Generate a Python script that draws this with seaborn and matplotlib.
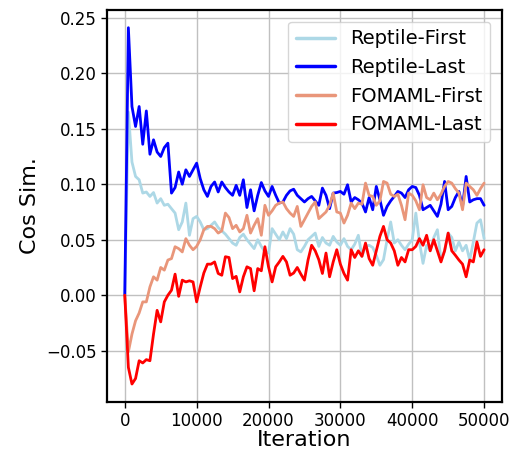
import numpy as np
import pandas as pd
import matplotlib
matplotlib.use("Agg")
import matplotlib.pyplot as plt
import seaborn as sns

# iterations, one point every 500
iterations = np.arange(0, 50001, 500)

reptile_first = [
    0.0, 0.165, 0.120, 0.107, 0.104, 0.092, 0.093, 0.089, 0.0925, 0.083,
    0.087, 0.081, 0.082, 0.078, 0.074, 0.059, 0.066, 0.083, 0.054, 0.069,
    0.071, 0.066, 0.059, 0.060, 0.063, 0.066, 0.061, 0.058, 0.055, 0.051,
    0.047, 0.045, 0.052, 0.055, 0.050, 0.046, 0.042, 0.050, 0.044, 0.039,
    0.038, 0.060, 0.055, 0.050, 0.057, 0.051, 0.060, 0.055, 0.041, 0.039,
    0.044, 0.050, 0.053, 0.056, 0.044, 0.052, 0.047, 0.045, 0.053, 0.048,
    0.045, 0.051, 0.044, 0.041, 0.046, 0.054, 0.035, 0.044, 0.045, 0.043,
    0.036, 0.027, 0.032, 0.050, 0.066, 0.047, 0.050, 0.045, 0.041, 0.046,
    0.050, 0.074, 0.048, 0.0287, 0.045, 0.040, 0.052, 0.059, 0.0317, 0.040,
    0.056, 0.052, 0.040, 0.048, 0.040, 0.045, 0.0317, 0.048, 0.065, 0.068,
    0.051,
]

reptile_last = [
    0.0, 0.241, 0.170, 0.152, 0.170, 0.136, 0.166, 0.127, 0.140, 0.129,
    0.125, 0.133, 0.137, 0.092, 0.097, 0.111, 0.100, 0.113, 0.107, 0.113,
    0.119, 0.105, 0.095, 0.089, 0.098, 0.102, 0.093, 0.102, 0.097, 0.093,
    0.090, 0.099, 0.090, 0.104, 0.079, 0.095, 0.076, 0.090, 0.1015, 0.094,
    0.089, 0.098, 0.090, 0.083, 0.084, 0.090, 0.094, 0.0955, 0.090, 0.087,
    0.084, 0.087, 0.089, 0.085, 0.081, 0.0965, 0.090, 0.078, 0.092, 0.0925,
    0.0935, 0.091, 0.0995, 0.084, 0.088, 0.086, 0.083, 0.075, 0.088, 0.077,
    0.098, 0.086, 0.072, 0.080, 0.085, 0.089, 0.0935, 0.092, 0.088, 0.095,
    0.098, 0.097, 0.090, 0.077, 0.079, 0.081, 0.076, 0.071, 0.082, 0.1025,
    0.077, 0.080, 0.088, 0.0935, 0.080, 0.107, 0.084, 0.086, 0.087, 0.087,
    0.081,
]

fomaml_first = [
    0.0, -0.051, -0.035, -0.023, -0.016, -0.006, -0.006, 0.0075, 0.0166, 0.0136,
    0.025, 0.0226, 0.0317, 0.033, 0.0437, 0.042, 0.039, 0.051, 0.045, 0.041,
    0.044, 0.050, 0.059, 0.062, 0.062, 0.060, 0.056, 0.058, 0.074, 0.070,
    0.060, 0.063, 0.057, 0.060, 0.072, 0.056, 0.063, 0.069, 0.054, 0.081,
    0.072, 0.076, 0.081, 0.083, 0.084, 0.078, 0.074, 0.071, 0.080, 0.062,
    0.068, 0.074, 0.080, 0.084, 0.069, 0.072, 0.075, 0.081, 0.092, 0.075,
    0.074, 0.065, 0.072, 0.083, 0.078, 0.083, 0.082, 0.101, 0.090, 0.089,
    0.081, 0.085, 0.1025, 0.101, 0.091, 0.089, 0.091, 0.081, 0.068, 0.092,
    0.090, 0.085, 0.077, 0.0995, 0.088, 0.086, 0.092, 0.086, 0.091, 0.098,
    0.1025, 0.101, 0.096, 0.092, 0.077, 0.101, 0.098, 0.095, 0.090, 0.096,
    0.101,
]

fomaml_last = [
    0.0, -0.065, -0.080, -0.075, -0.059, -0.061, -0.058, -0.059, -0.035, -0.0136,
    -0.024, -0.006, 0.0, 0.0045, 0.019, -0.001, 0.0136, 0.012, 0.013, 0.012,
    -0.006, 0.0075, 0.020, 0.028, 0.028, 0.030, 0.0196, 0.018, 0.0347, 0.034,
    0.015, 0.017, 0.003, 0.0166, 0.0256, 0.024, 0.004, 0.024, 0.022, 0.0437,
    0.0256, 0.012, 0.0256, 0.030, 0.035, 0.030, 0.018, 0.020, 0.025, 0.019,
    0.0136, 0.0317, 0.045, 0.040, 0.032, 0.0196, 0.038, 0.0166, 0.030, 0.041,
    0.028, 0.0196, 0.0136, 0.041, 0.034, 0.040, 0.035, 0.047, 0.033, 0.027,
    0.040, 0.053, 0.062, 0.050, 0.047, 0.040, 0.027, 0.034, 0.030, 0.041,
    0.041, 0.044, 0.051, 0.045, 0.054, 0.040, 0.050, 0.040, 0.030, 0.040,
    0.056, 0.040, 0.036, 0.0317, 0.028, 0.0166, 0.0317, 0.030, 0.048, 0.035,
    0.041,
]

series = {
    'Reptile-First': reptile_first,
    'Reptile-Last': reptile_last,
    'FOMAML-First': fomaml_first,
    'FOMAML-Last': fomaml_last,
}
colores = {
    'Reptile-First': 'lightblue',
    'Reptile-Last': 'blue',
    'FOMAML-First': 'darksalmon',
    'FOMAML-Last': 'red',
}

df = pd.concat(
    [pd.DataFrame({'Iteration': iterations, 'Cos Sim.': v, 'run': k}) for k, v in series.items()],
    ignore_index=True,
)

sns.set_style('whitegrid', {
    'axes.edgecolor': 'black',
    'axes.labelcolor': 'black',
    'text.color': 'black',
    'xtick.color': 'black',
    'ytick.color': 'black',
    'grid.color': '#c0c0c0',
    'xtick.bottom': True,
    'ytick.left': True,
})
plt.rcParams['font.family'] = ['DejaVu Sans']

fig, ax = plt.subplots(figsize=(5.16, 4.49), dpi=100)
fig.subplots_adjust(left=0.207, right=0.973, bottom=0.105, top=0.978)

sns.lineplot(data=df, x='Iteration', y='Cos Sim.', hue='run', palette=colores,
             linewidth=2, ax=ax)

for s in ax.spines.values():
    s.set_linewidth(1.6)
    s.set_color('black')
ax.grid(True, linewidth=1.0)
ax.tick_params(labelsize=12, length=4, width=1, color='black')
ax.set_xlabel('Iteration', fontsize=16, labelpad=0)
ax.set_ylabel('Cos Sim.', fontsize=16, labelpad=4)
ax.set_xticks([0, 10000, 20000, 30000, 40000, 50000])
ax.set_yticks([-0.05, 0.0, 0.05, 0.10, 0.15, 0.20, 0.25])
ax.margins(x=0.05, y=0.05)

leg = ax.legend(loc='upper right', fontsize=14, frameon=True, handlelength=2.0,
                borderaxespad=0.6)
for h in leg.get_lines():
    h.set_linewidth(2.5)

fig.savefig('out.png', dpi=100)
